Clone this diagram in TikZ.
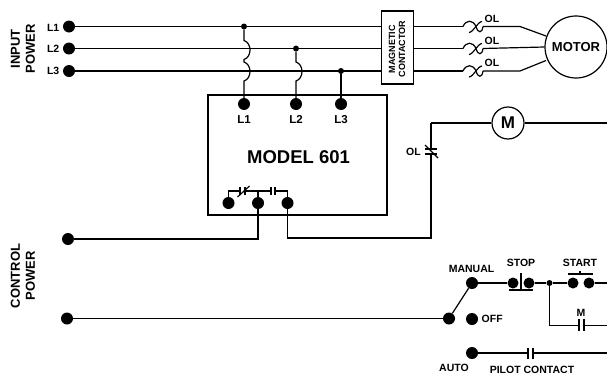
\documentclass[tikz,border=0pt]{standalone}
\usepackage{fontspec}
\setmainfont{Liberation Sans}
\usetikzlibrary{calc}
\tikzset{
	term/.style={circle, fill=black, inner sep=0pt, minimum size=12pt},
	smallterm/.style={circle, fill=black, inner sep=0pt, minimum size=11pt},
	junction/.style={circle, fill=black, inner sep=0pt, minimum size=6pt},
	wire/.style={line width=1.2pt},
	lbl/.style={font=\bfseries\fontsize{10.5}{11}\selectfont, inner sep=0pt},
	biglbl/.style={font=\bfseries\fontsize{13}{15}\selectfont, inner sep=0pt, align=center},
	linelbl/.style={font=\bfseries\fontsize{11.5}{12}\selectfont, inner sep=0pt, anchor=base},
}
\def\hop(#1,#2){-- (#1,#2-9.5) .. controls (#1+8,#2-7) and (#1+8,#2+7) .. (#1,#2+9.5)}
\def\overload(#1){\draw[wire] (463,#1) .. controls (466,#1-7) and (473,#1-7) .. (476,#1) .. controls (478,#1+7) and (482,#1+7) .. (483,#1);
	\draw[wire] (469,#1+6) .. controls (473,#1+6) and (478,#1-5) .. (482,#1-5);}
\begin{document}
\begin{tikzpicture}[x=1pt, y=-1pt]
	\useasboundingbox (0,0) rectangle (607,375);

	%%%%% input power %%%%%
	\node[term] (inA) at (69,26.5) {};
	\node[term] (inB) at (69,48.5) {};
	\node[term] (inC) at (69,71) {};
	\node[lbl, anchor=east] at (59.5,28) {L1};
	\node[lbl, anchor=east] at (59.5,49) {L2};
	\node[lbl, anchor=east] at (59.5,71) {L3};
	\node[biglbl, rotate=90] at (23,49) {INPUT\\POWER};

	\node[draw, line width=1.2pt, minimum width=31.5pt, minimum height=73pt, inner sep=0pt] (contactor) at (397.5,47.5) {};
	\node[font=\bfseries\fontsize{9}{10}\selectfont, rotate=90, align=center, inner sep=0pt] at (397,49) {MAGNETIC\\CONTACTOR};
	\draw[wire] (inA) -- (contactor.west |- inA);
	\draw[wire] (inB) -- (contactor.west |- inB);
	\draw[wire] (inC) -- (contactor.west |- inC);

	\node[junction] (dotA) at (244,26.5) {};
	\node[junction] (dotB) at (296,48.5) {};
	\node[junction] (dotC) at (341,71) {};

	%%%%% model 601 %%%%%
	\node[draw, line width=1.2pt, minimum width=179pt, minimum height=120pt, inner sep=0pt] (model) at (297.5,155) {};
	\node[font=\bfseries\fontsize{18.5}{19}\selectfont, inner sep=0pt] at (298.5,157) {MODEL 601};
	\node[term] (topA) at (244,104) {};
	\node[term] (topB) at (296,104) {};
	\node[term] (topC) at (341,104) {};
	\node[linelbl] at (244,123.5) {L1};
	\node[linelbl] at (296,123.5) {L2};
	\node[linelbl] at (341,123.5) {L3};
	\draw[wire] (dotA) \hop(244,50) \hop(244,71.5) -- (topA);
	\draw[wire] (dotB) \hop(296,71.5) -- (topB);
	\draw[wire] (dotC) -- (topC);

	\node[term] (relA) at (228.5,203) {};
	\node[term] (relB) at (258,203) {};
	\node[term] (relC) at (287.5,203) {};
	\draw[wire] (relA) -- (228.5,191) -- (240,191);
	\draw[wire] (245,191) -- (271,191);
	\draw[wire] (275,191) -- (287.5,191) -- (relC);
	\draw[wire] (relB) -- (258,191);
	\draw[wire] (240,187) -- (240,195);
	\draw[wire] (245,187) -- (245,195);
	\draw[wire] (237.5,197) -- (249.5,186);
	\draw[wire] (271,187) -- (271,195);
	\draw[wire] (275,187) -- (275,195);

	%%%%% motor %%%%%
	\node[draw, circle, line width=1.2pt, minimum size=62pt, inner sep=0pt, font=\bfseries\fontsize{13}{14}\selectfont] (motor) at (576,47) {MOTOR};
	\coordinate (olA) at (463,26.5);
	\coordinate (olB) at (463,48.5);
	\coordinate (olC) at (463,71);
	\draw[wire] (contactor.east |- olA) -- (olA);
	\draw[wire] (contactor.east |- olB) -- (olB);
	\draw[wire] (contactor.east |- olC) -- (olC);
	\overload(26.5)
	\overload(48.5)
	\overload(71)
	\draw[wire] (483,26.5) -- (520,26.5) -- (546,36);
	\draw[wire] (483,48.5) -- (motor.west);
	\draw[wire] (483,71) -- (520,71) -- (546,60.5);
	\node[lbl] at (492,18.5) {OL};
	\node[lbl] at (492,40.5) {OL};
	\node[lbl] at (492,63) {OL};

	%%%%% control power %%%%%
	\node[biglbl, rotate=90] at (23,276) {CONTROL\\POWER};
	\node[term] (ctlA) at (68,239) {};
	\node[term] (ctlB) at (67,318.5) {};
	\draw[wire] (ctlA) -- (258,239) -- (relB);
	\draw[wire] (relC) -- (287.5,238) -- (431,238) -- (431,154);
	\draw[wire] (431,149) -- (431,123);
	\node[draw, circle, line width=1.2pt, minimum size=32pt, inner sep=0pt, font=\bfseries\fontsize{17}{18}\selectfont] (coil) at (508,123) {M};
	\draw[wire] (431,123) -- (coil);
	\draw[wire] (coil) -- (607,123);
	\draw[wire] (425,149) -- (437,149);
	\draw[wire] (425,154) -- (437,154);
	\draw[wire] (425,145) -- (438,158);
	\node[lbl, anchor=east] at (421,152) {OL};

	%%%%% stop / start %%%%%
	\node[term] (sw) at (449,318.5) {};
	\node[term] (man) at (472,283) {};
	\node[term] (off) at (472,319) {};
	\node[term] (auto) at (472,353) {};
	\node[smallterm] (stopA) at (513,283) {};
	\node[smallterm] (stopB) at (529,283) {};
	\node[junction] (dotD) at (549.5,283) {};
	\node[smallterm] (startA) at (573,283) {};
	\node[smallterm] (startB) at (589,283) {};
	\draw[wire] (ctlB) -- (sw);
	\draw[wire] (sw) -- (man);
	\draw[wire] (man) -- (stopA);
	\draw[wire] (stopB) -- (dotD) -- (startA);
	\draw[wire] (startB) -- (607,283);
	\draw[wire] (509,290) -- (533,290);
	\draw[wire] (521,273) -- (521,290);
	\draw[wire] (568,274) -- (593,274);
	\draw[wire] (580,271) -- (580,274);
	\draw[wire] (dotD) -- (549.5,325.5) -- (579,325.5);
	\draw[wire] (584,325.5) -- (607,325.5);
	\draw[wire] (579,319) -- (579,331);
	\draw[wire] (584,319) -- (584,331);
	\draw[wire] (auto) -- (528,353);
	\draw[wire] (533,353) -- (607,353);
	\draw[wire] (528,347.5) -- (528,359);
	\draw[wire] (533,347.5) -- (533,359);

	\node[lbl] at (471.5,269) {MANUAL};
	\node[lbl] at (521,263) {STOP};
	\node[lbl] at (580,263) {START};
	\node[lbl] at (581,313) {M};
	\node[lbl, anchor=west] at (481.5,319) {OFF};
	\node[lbl] at (454,368) {AUTO};
	\node[lbl] at (532,370) {PILOT CONTACT};
\end{tikzpicture}
\end{document}
